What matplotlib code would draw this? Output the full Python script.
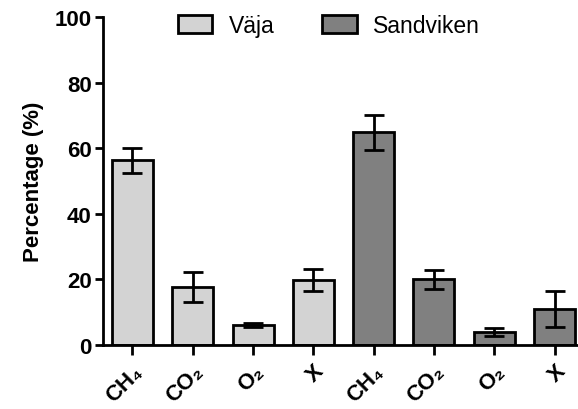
import numpy as np
import matplotlib
matplotlib.use("Agg")
import matplotlib.pyplot as plt

# --- Data ---
groups = ["Väja", "Sandviken"]
gases = ["CH₄", "CO₂", "O₂", "X"]
vaja_mean = [56.4, 17.7, 6.0, 19.8]
vaja_err = [3.8, 4.7, 0.6, 3.4]
sand_mean = [64.9, 20.0, 4.1, 10.9]
sand_err = [5.3, 3.0, 1.2, 5.5]
colors = ["#d3d3d3", "#808080"]

plt.rcParams['font.family'] = ['Liberation Sans', 'DejaVu Sans']

fig = plt.figure(figsize=(5.78, 4.10), dpi=100)
ax = fig.add_axes([0.178, 0.156, 0.82, 0.80])

n = len(gases)
x1 = np.arange(n)
x2 = np.arange(n, 2 * n)
err_kw = dict(ecolor='black', elinewidth=2, capsize=7, capthick=2)

ax.bar(x1, vaja_mean, width=0.68, color=colors[0], edgecolor='black',
       linewidth=2, yerr=vaja_err, error_kw=err_kw, label=groups[0])
ax.bar(x2, sand_mean, width=0.68, color=colors[1], edgecolor='black',
       linewidth=2, yerr=sand_err, error_kw=err_kw, label=groups[1])

ax.set_xlim(-0.49, 7.37)
ax.set_ylim(0, 100)
ax.set_yticks([0, 20, 40, 60, 80, 100])
ax.set_xticks(np.arange(2 * n))
ax.set_xticklabels(gases + gases, rotation=45, ha='right', rotation_mode='anchor',
                   fontsize=16, fontweight='bold')
for lbl in ax.get_yticklabels():
    lbl.set_fontsize(16)
    lbl.set_fontweight('bold')

ax.spines['top'].set_visible(False)
ax.spines['right'].set_visible(False)
ax.spines['left'].set_linewidth(2)
ax.spines['bottom'].set_linewidth(2)
ax.tick_params(axis='both', width=2, length=6, direction='out')
ax.tick_params(axis='y', pad=2)
ax.tick_params(axis='x', length=7, pad=4)

ax.set_ylabel('Percentage (%)', fontsize=16, fontweight='bold', labelpad=8)

leg = fig.legend(loc='upper left', bbox_to_anchor=(178 / 578, 1 - 15 / 410), ncol=2,
                 frameon=False, fontsize=16.5, handlelength=1.5, handleheight=0.85,
                 handletextpad=0.7, columnspacing=2.1, borderaxespad=0, borderpad=0)
for p in leg.get_patches():
    p.set_linewidth(2)

fig.savefig("out.png", dpi=100)
